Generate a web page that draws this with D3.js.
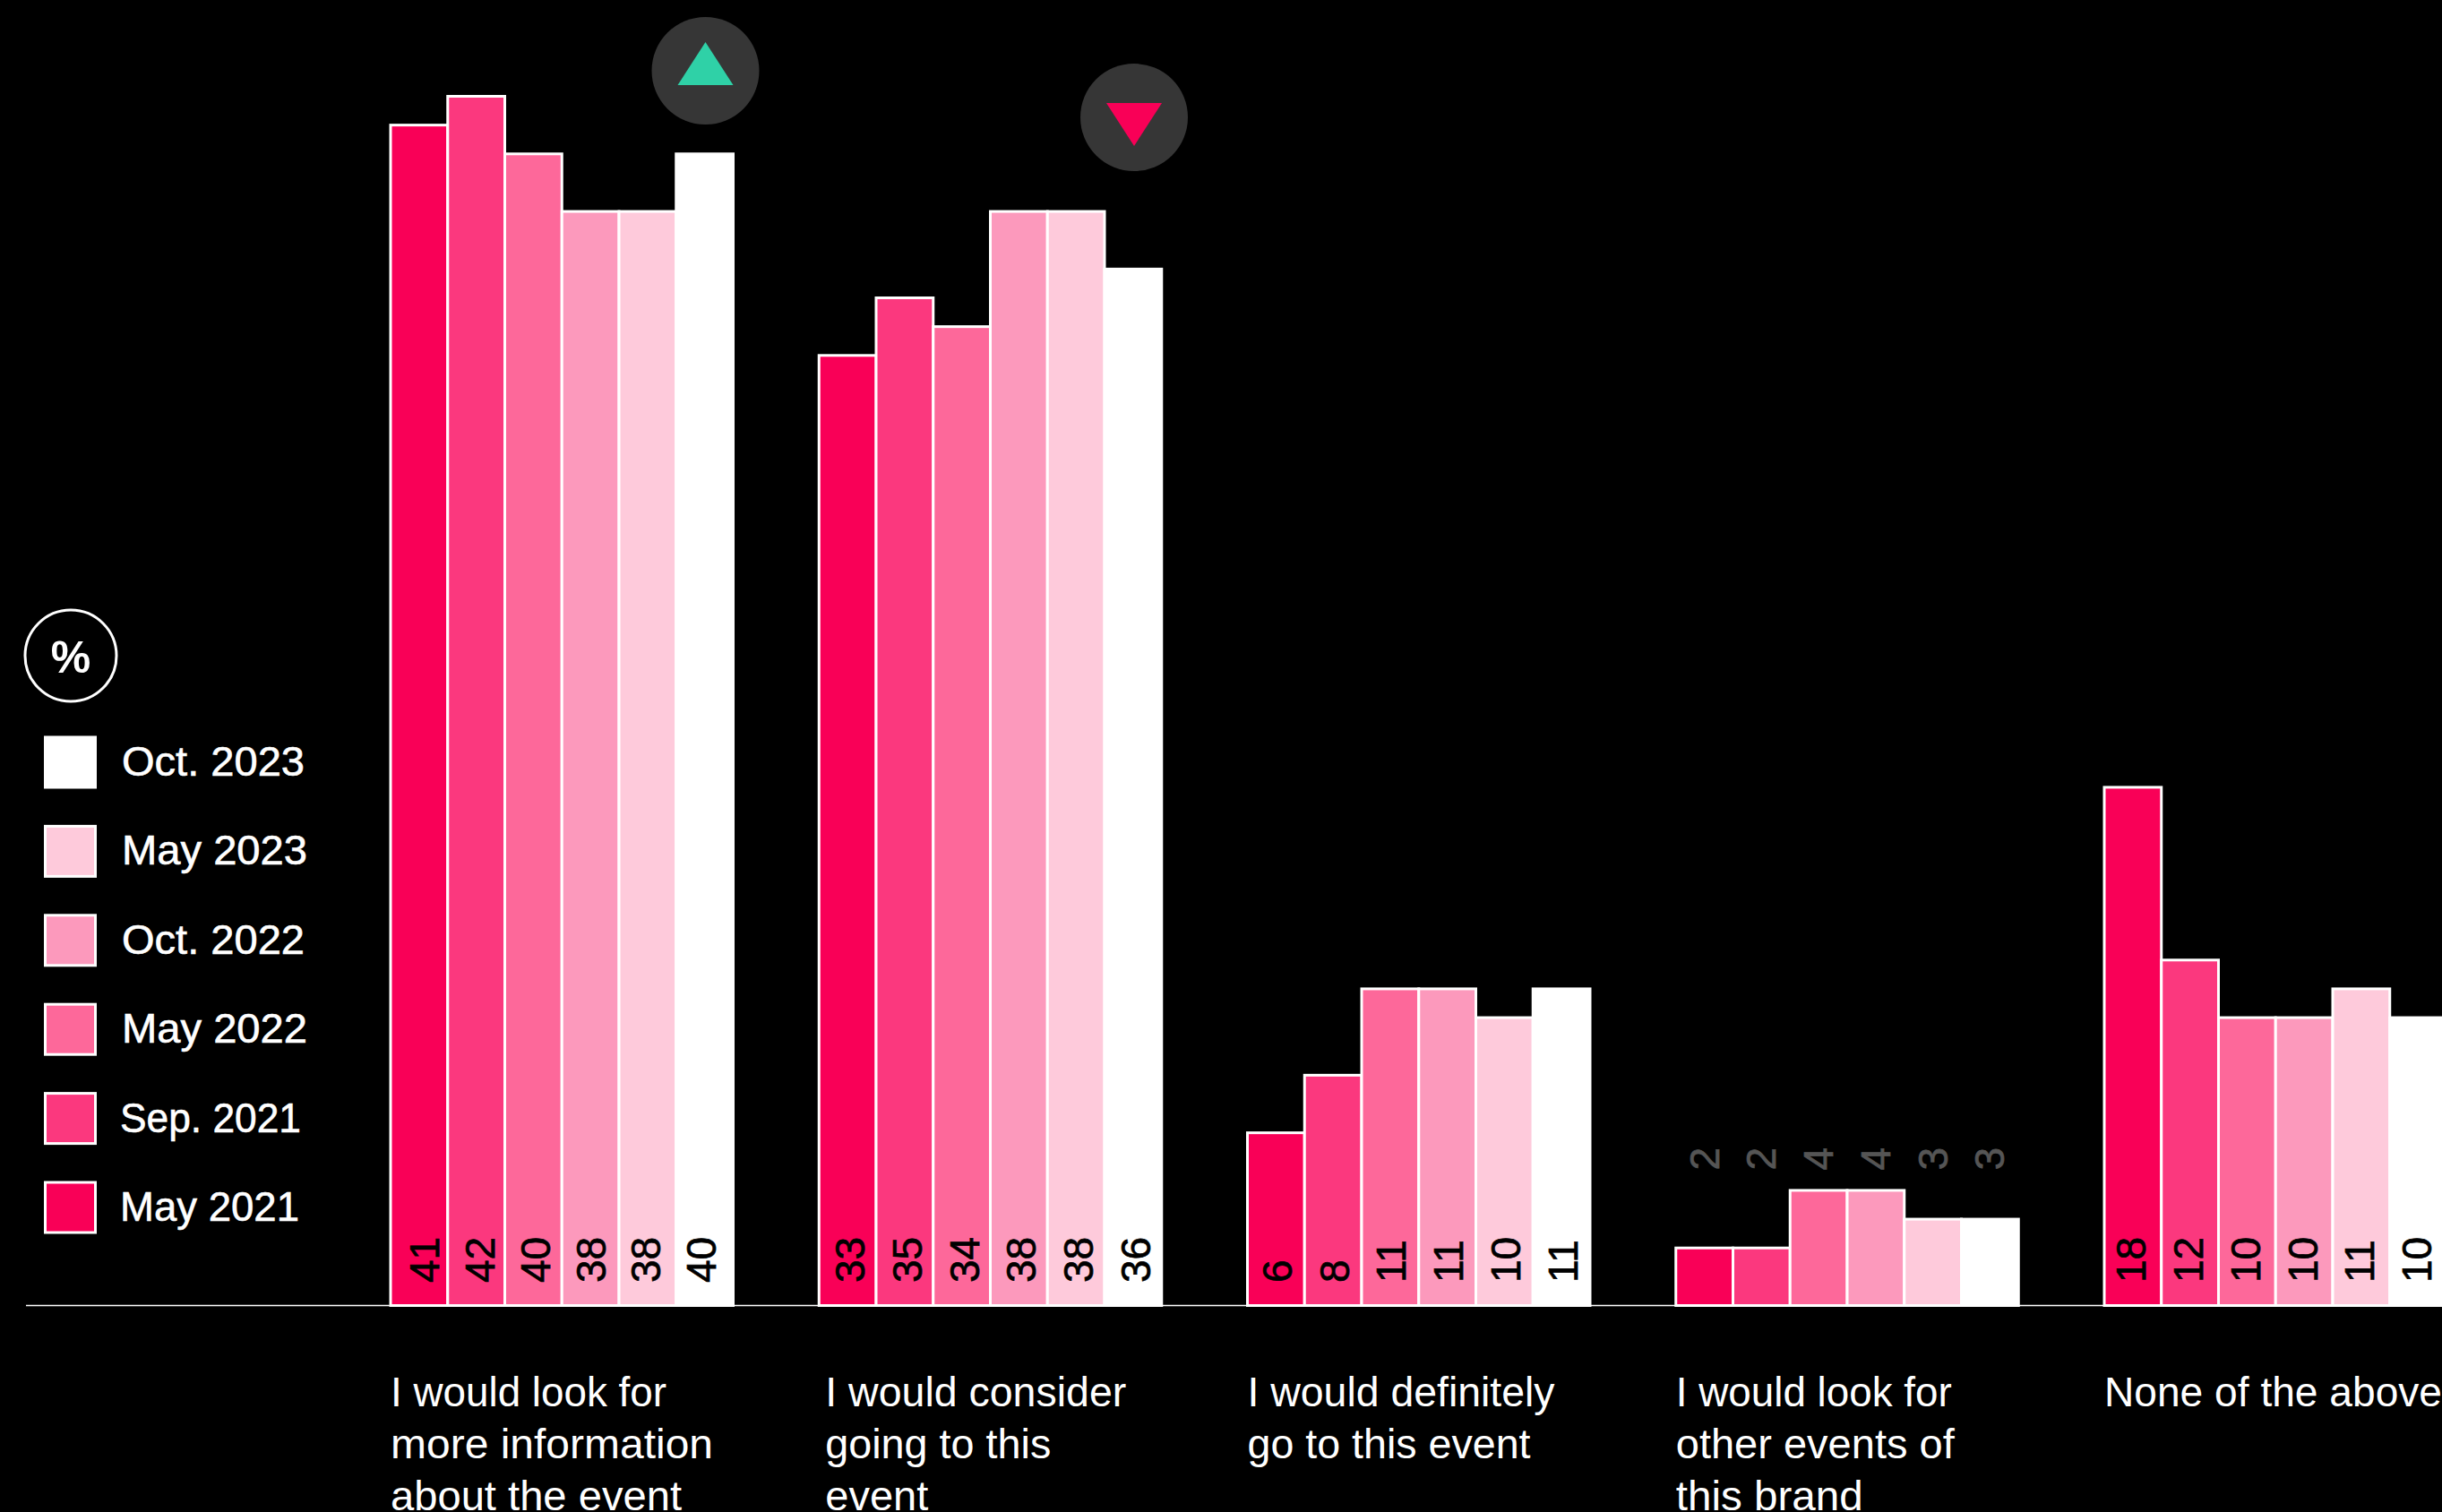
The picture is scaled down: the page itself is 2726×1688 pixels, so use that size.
<!DOCTYPE html>
<html><head><meta charset="utf-8">
<script src="https://cdn.jsdelivr.net/npm/d3@7/dist/d3.min.js"></script>
<style>
html,body{margin:0;padding:0;background:#000;overflow:hidden}
svg{display:block;font-family:"Liberation Sans",Arial,sans-serif}
</style></head><body><svg id="c" width="2726" height="1688"></svg>
<script>
const categories = [
  ["I would look for","more information","about the event"],
  ["I would consider","going to this","event"],
  ["I would definitely","go to this event"],
  ["I would look for","other events of","this brand"],
  ["None of the above"]
];
const seriesNames = ["May 2021","Sep. 2021","May 2022","Oct. 2022","May 2023","Oct. 2023"];
const seriesColors = ["#f90057","#fb387e","#fd689a","#fc99bc","#fecadb","#ffffff"];
const may2021 = [41,33,6,2,18];
const sep2021 = [42,35,8,2,12];
const may2022 = [40,34,11,4,10];
const oct2022 = [38,38,11,4,10];
const may2023 = [38,38,10,3,11];
const oct2023 = [40,36,11,3,10];
const seriesValues = [may2021,sep2021,may2022,oct2022,may2023,oct2023];
const changeMarkers = [{cat:0,dir:"up",color:"#2fd1a7"},{cat:1,dir:"down",color:"#f90057"}];

// layout tuning, separate from the data
const catLineWidths = [[308,360,325],[336,252,115],[343,316],[308,311,209],[377]];
const catDx = [0,7,0,0,0];
const legendWidths = [200,202,207,204,207,204];
const legendX = [134,134,136,136,136,136];
const labelStartDx = [3.5,0,-1.5,-3,-4.5];
const labelStepDx = [-2,0,0,0,0];
const markerCenters = [[787.5,79],[1266,131]];

const svg = d3.select("#c");
svg.append("rect").attr("width",2726).attr("height",1688).attr("fill","#000");

const base = 1457.5;
const y = d3.scaleLinear().domain([0,42]).range([base,107.5]);
const x0 = d3.scaleLinear().domain([0,4]).range([436,2349]);
const x1 = d3.scaleBand().domain(d3.range(6)).range([0,382.5]);
const labelStart = 1432, smallStart = 1306.5, smallThreshold = 5;

svg.append("line").attr("x1",29).attr("x2",2726).attr("y1",base).attr("y2",base)
  .attr("stroke","#fff").attr("stroke-width",1.5);

const rows = seriesValues.flatMap((vals,s)=>vals.map((v,c)=>({s,c,v})));
const bx = d => x0(d.c)+x1(d.s);

svg.append("g").selectAll("rect").data(rows).join("rect")
  .attr("x",bx).attr("y",d=>y(d.v))
  .attr("width",x1.bandwidth()).attr("height",d=>base-y(d.v))
  .attr("fill",d=>seriesColors[d.s]).attr("stroke","#fff").attr("stroke-width",3);

svg.append("g").selectAll("text").data(rows).join("text")
  .attr("transform",d=>{
    const lx = bx(d)+x1.bandwidth()/2+19+labelStartDx[d.c]+labelStepDx[d.c]*d.s;
    return `translate(${lx},${d.v<smallThreshold?smallStart:labelStart}) rotate(-90)`;
  })
  .attr("font-size",46)
  .attr("fill",d=>d.v<smallThreshold?"#555":"#000")
  .attr("stroke",d=>d.v<smallThreshold?"#555":"#000").attr("stroke-width",.7)
  .text(d=>d.v);

const catG = svg.append("g").selectAll("text").data(categories).join("text")
  .attr("font-size",47).attr("fill","#fff")
  .attr("y",1569.5);
catG.selectAll("tspan").data((d,i)=>d.map((t,j)=>({t,i,j}))).join("tspan")
  .attr("x",d=>x0(d.i)+catDx[d.i]).attr("dy",d=>d.j?58:0)
  .attr("textLength",d=>catLineWidths[d.i][d.j]).attr("lengthAdjust","spacingAndGlyphs")
  .text(d=>d.t);

const lg = svg.append("g");
const legendY = d3.scalePoint().domain([5,4,3,2,1,0]).range([851,1348]);
lg.selectAll("rect").data(d3.range(6)).join("rect")
  .attr("x",50.5).attr("y",s=>legendY(s)-28).attr("width",56).attr("height",56)
  .attr("fill",s=>seriesColors[s]).attr("stroke","#fff").attr("stroke-width",3);
lg.selectAll("text").data(d3.range(6)).join("text")
  .attr("x",s=>legendX[s]).attr("y",s=>legendY(s)+15)
  .attr("font-size",47).attr("fill","#fff").attr("stroke","#fff").attr("stroke-width",.6)
  .attr("textLength",s=>legendWidths[s]).attr("lengthAdjust","spacingAndGlyphs")
  .text(s=>seriesNames[s]);

svg.append("circle").attr("cx",79).attr("cy",732).attr("r",51)
  .attr("fill","#000").attr("stroke","#fff").attr("stroke-width",3);
svg.append("text").attr("x",79).attr("y",751).attr("text-anchor","middle")
  .attr("font-size",50).attr("font-weight",700).attr("fill","#fff").text("%");

changeMarkers.forEach((m,i)=>{
  const [cx,cy] = markerCenters[i];
  svg.append("circle").attr("cx",cx).attr("cy",cy).attr("r",60).attr("fill","#363636");
  const w=31, s=m.dir==="up"?1:-1;
  svg.append("path").attr("fill",m.color)
    .attr("d",d3.line()([[cx,cy-s*32],[cx+w,cy+s*16],[cx-w,cy+s*16]])+"Z");
});
</script></body></html>
